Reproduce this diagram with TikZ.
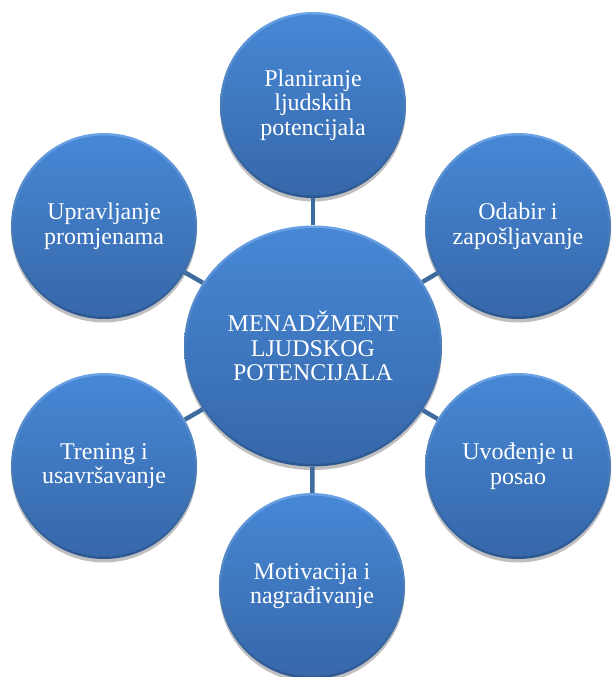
\documentclass[tikz,border=0pt]{standalone}
\usepackage{fontspec}
\setmainfont{Liberation Serif}
\usetikzlibrary{shapes.geometric,shadows,calc}
\definecolor{btop}{HTML}{4788D6}
\definecolor{bbot}{HTML}{3667A9}
\definecolor{rimtop}{HTML}{6AA3E6}
\definecolor{rimbot}{HTML}{2B5791}
\definecolor{conn}{HTML}{3F6C9F}
\begin{document}
\begin{tikzpicture}[x=1pt,y=-1pt,
  bub/.style={circle, minimum size=186pt, inner sep=0pt, top color=rimtop, bottom color=rimbot,
    text=white, font=\fontsize{24}{24.5}\selectfont, align=center,
    drop shadow={shadow xshift=0pt, shadow yshift=-3.5pt, opacity=0.25, fill=black},
    path picture={\path let \p1=(path picture bounding box.north east),
      \p2=(path picture bounding box.center) in
      [top color=btop, bottom color=bbot] (\p2) ellipse ({\x1-\x2-2.5pt} and {\y1-\y2-2.5pt});}},
  hub/.style={bub, ellipse, minimum width=258pt, minimum height=241pt},
  link/.style={draw=conn, line width=4.5pt}]
\useasboundingbox (0,0) rectangle (612,677);
\node[hub] (c) at (313,346) {MENADŽMENT\\LJUDSKOG\\POTENCIJALA};
\node[bub] (t) at (313,105) {Planiranje\\ljudskih\\potencijala};
\node[bub] (rt) at (518,226) {Odabir i\\zapošljavanje};
\node[bub] (rb) at (518,466) {Uvođenje u\\posao};
\node[bub] (b) at (312,586) {Motivacija i\\nagrađivanje};
\node[bub] (lb) at (104,466) {Trening i\\usavršavanje};
\node[bub] (lt) at (104,226) {Upravljanje\\promjenama};
\foreach \n in {t,rt,rb,b,lb,lt} \draw[link] (c) -- (\n);
\end{tikzpicture}
\end{document}
